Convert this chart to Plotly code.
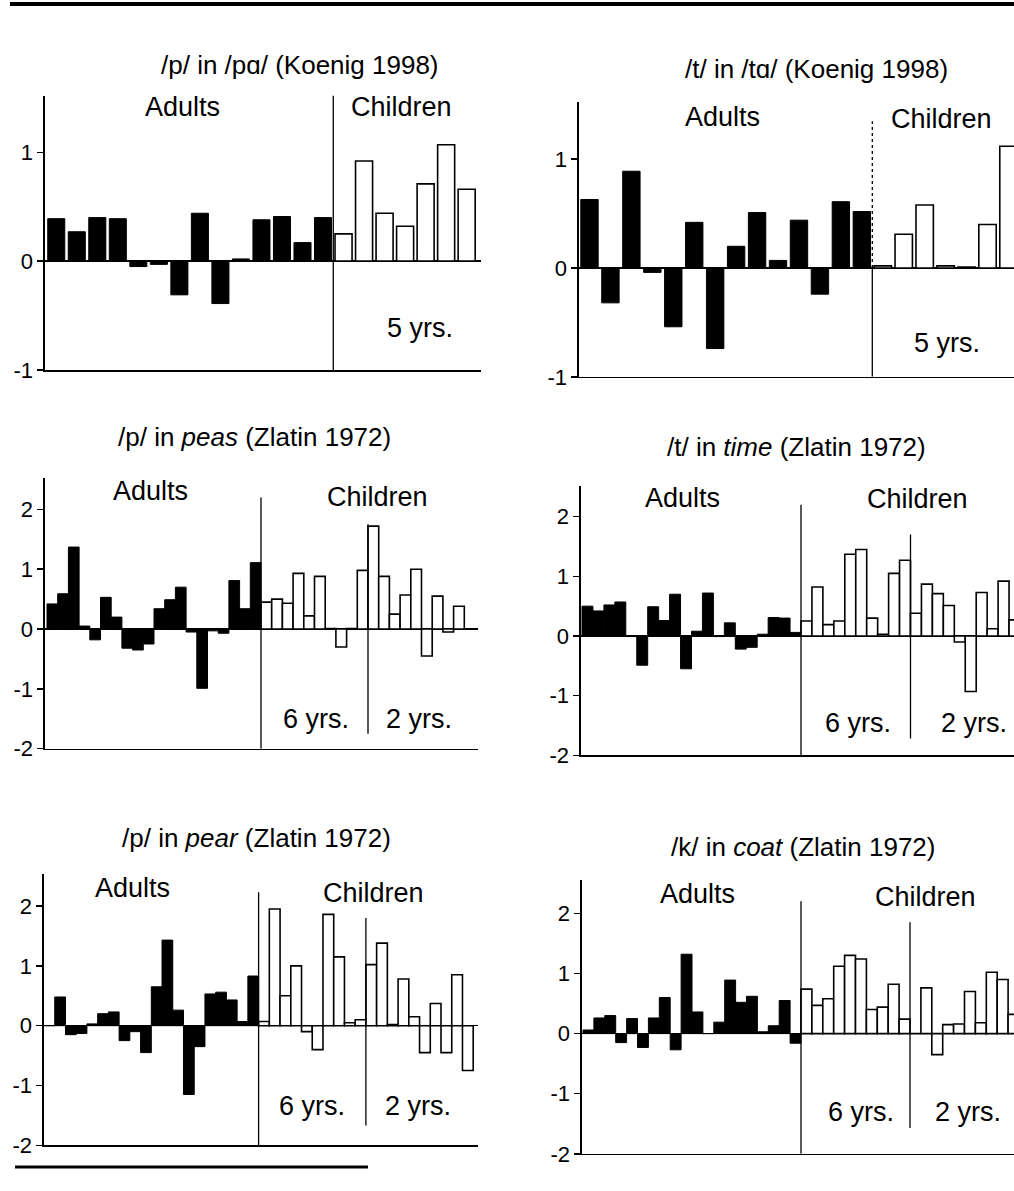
import plotly.graph_objects as go

W, H = 1014, 1191
FONT = "Liberation Sans, Arial, Helvetica, sans-serif"

# ---------------- data ----------------
# Panel 1: /p/ in /pɑ/ (Koenig 1998)
pa_adults = [0.39, 0.27, 0.40, 0.39, -0.05, -0.03, -0.31, 0.44, -0.39, 0.02, 0.38, 0.41, 0.17, 0.40]
pa_children5 = [0.25, 0.92, 0.44, 0.32, 0.71, 1.07, 0.66]
# Panel 2: /t/ in /tɑ/ (Koenig 1998)
ta_adults = [0.63, -0.32, 0.89, -0.04, -0.54, 0.42, -0.74, 0.20, 0.51, 0.07, 0.44, -0.24, 0.61, 0.52]
ta_children5 = [0.02, 0.31, 0.58, 0.02, 0.01, 0.40, 1.12]
# Panel 3: /p/ in peas (Zlatin 1972)
peas_adults = [0.42, 0.59, 1.37, 0.05, -0.18, 0.53, 0.20, -0.32, -0.35, -0.25,
               0.34, 0.49, 0.70, -0.05, -0.99, -0.03, -0.07, 0.81, 0.34, 1.11]
peas_children6 = [0.45, 0.50, 0.43, 0.93, 0.22, 0.88, 0.01, -0.30, 0.01, 0.98]
peas_children2 = [1.72, 0.88, 0.25, 0.57, 1.00, -0.45, 0.55, -0.05, 0.38]
# Panel 4: /t/ in time (Zlatin 1972)
time_adults = [0.50, 0.42, 0.52, 0.57, -0.01, -0.49, 0.49, 0.26, 0.70, -0.55,
               0.08, 0.72, -0.01, 0.22, -0.22, -0.19, 0.03, 0.31, 0.30, 0.06]
time_children6 = [0.25, 0.82, 0.19, 0.25, 1.37, 1.45, 0.30, 0.03, 1.05, 1.27]
time_children2 = [0.38, 0.87, 0.71, 0.51, -0.10, -0.93, 0.73, 0.12, 0.92, 0.27]
# Panel 5: /p/ in pear (Zlatin 1972)
pear_adults = [0.00, 0.48, -0.15, -0.13, 0.03, 0.20, 0.23, -0.25, -0.10, -0.45,
               0.65, 1.43, 0.26, -1.15, -0.35, 0.53, 0.56, 0.43, 0.07, 0.83]
pear_children6 = [0.07, 1.95, 0.50, 1.00, -0.10, -0.40, 1.86, 1.15, 0.05, 0.10]
pear_children2 = [1.02, 1.38, 0.02, 0.78, 0.15, -0.45, 0.37, -0.45, 0.85, -0.75]
# Panel 6: /k/ in coat (Zlatin 1972)
coat_adults = [0.06, 0.26, 0.30, -0.15, 0.25, -0.23, 0.26, 0.60, -0.27, 1.32,
               0.36, 0.00, 0.19, 0.89, 0.52, 0.62, 0.03, 0.13, 0.55, -0.16]
coat_children6 = [0.74, 0.47, 0.58, 1.12, 1.30, 1.24, 0.40, 0.44, 0.82, 0.24]
coat_children2 = [0.00, 0.76, -0.35, 0.15, 0.16, 0.70, 0.18, 1.02, 0.90, 0.32]

ticks_small = [1, 0, -1]
ticks_small_text = ["1", "0", "-1"]
ticks_big = [2, 1, 0, -1, -2]
ticks_big_text = ["2", "1", "0", "-1", "-2"]

titles = [
    "/p/ in /pɑ/ (Koenig 1998)",
    "/t/ in /tɑ/ (Koenig 1998)",
    "/p/ in <i>peas</i> (Zlatin 1972)",
    "/t/ in <i>time</i> (Zlatin 1972)",
    "/p/ in <i>pear</i> (Zlatin 1972)",
    "/k/ in <i>coat</i> (Zlatin 1972)",
]

# ---------------- layout description (pixels) ----------------
panels = [
    dict(groups=[pa_adults, pa_children5], dom_x=(45, 481), left0=46, step=20.52,
         zero=264, unit=110, ymin=-1, ymax=1.52, tv=ticks_small, tt=ticks_small_text, bw=0.83,
         title_xy=(300, 66),
         divs=[(1, -1, 1.6, "solid")],
         labels=[("Adults", 182, 108), ("Children", 401, 108), ("5 yrs.", 420, 332)]),
    dict(groups=[ta_adults, ta_children5], dom_x=(579, 1014), left0=579, step=20.95,
         zero=271, unit=110, ymin=-1, ymax=1.53, tv=ticks_small, tt=ticks_small_text, bw=0.83,
         title_xy=(816, 70),
         divs=[(1, 0, 1.35, "dot"), (1, -1, 0, "solid")],
         labels=[("Adults", 722, 118), ("Children", 941, 120), ("5 yrs.", 947, 347)]),
    dict(groups=[peas_adults, peas_children6, peas_children2], dom_x=(45, 478), left0=47, step=10.7,
         zero=636, unit=60.5, ymin=-2, ymax=2.53, tv=ticks_big, tt=ticks_big_text, bw=1.0,
         title_xy=(254, 442),
         divs=[(1, -2, 2.2, "solid"), (2, -1.75, 1.75, "solid")],
         labels=[("Adults", 150, 496), ("Children", 377, 502), ("6 yrs.", 316, 727), ("2 yrs.", 419, 727)]),
    dict(groups=[time_adults, time_children6, time_children2], dom_x=(581, 1014), left0=582, step=10.95,
         zero=643, unit=60.3, ymin=-2, ymax=2.52, tv=ticks_big, tt=ticks_big_text, bw=1.0,
         title_xy=(796, 452),
         divs=[(1, -2, 2.2, "solid"), (2, -1.72, 1.7, "solid")],
         labels=[("Adults", 682, 503), ("Children", 917, 505), ("6 yrs.", 858, 731), ("2 yrs.", 974, 731)]),
    dict(groups=[pear_adults, pear_children6, pear_children2], dom_x=(44, 478), left0=44, step=10.73,
         zero=1037, unit=60.5, ymin=-2, ymax=2.53, tv=ticks_big, tt=ticks_big_text, bw=1.0,
         title_xy=(256, 847),
         divs=[(1, -2, 2.23, "solid"), (2, -1.67, 1.8, "solid")],
         labels=[("Adults", 132, 898), ("Children", 373, 903), ("6 yrs.", 312, 1118), ("2 yrs.", 418, 1118)]),
    dict(groups=[coat_adults, coat_children6, coat_children2], dom_x=(582, 1014), left0=583, step=10.9,
         zero=1045, unit=60.8, ymin=-2, ymax=2.55, tv=ticks_big, tt=ticks_big_text, bw=1.0,
         title_xy=(803, 856),
         divs=[(1, -2, 2.2, "solid"), (2, -1.57, 1.85, "solid")],
         labels=[("Adults", 697, 904), ("Children", 925, 907), ("6 yrs.", 861, 1124), ("2 yrs.", 968, 1124)]),
]

fig = go.Figure()
layout = dict(
    width=W, height=H, margin=dict(l=0, r=0, t=0, b=0),
    paper_bgcolor="white", plot_bgcolor="white", showlegend=False,
    font=dict(family=FONT, color="black"),
    annotations=[], shapes=[],
)

for i, p in enumerate(panels):
    n = i + 1
    xa = "x" if n == 1 else f"x{n}"
    ya = "y" if n == 1 else f"y{n}"
    # x range: bar k centered on value k
    x0 = -0.5 - (p["left0"] - p["dom_x"][0]) / p["step"]
    x1 = x0 + (p["dom_x"][1] - p["dom_x"][0]) / p["step"]
    top_px = p["zero"] - p["ymax"] * p["unit"]
    bot_px = p["zero"] - p["ymin"] * p["unit"]

    start = 0
    bounds = []
    for g, vals in enumerate(p["groups"]):
        xs = list(range(start, start + len(vals)))
        adult = g == 0
        fig.add_trace(go.Bar(
            x=xs, y=vals, width=p["bw"], xaxis=xa, yaxis=ya,
            marker=dict(color="black" if adult else "white",
                        line=dict(color="black", width=1.0 if adult else 1.6)),
            hoverinfo="skip",
        ))
        start += len(vals)
        bounds.append(start - 0.5)

    layout["xaxis" if n == 1 else f"xaxis{n}"] = dict(
        domain=[p["dom_x"][0] / W, p["dom_x"][1] / W], anchor=ya, range=[x0, x1],
        showline=True, linecolor="black", linewidth=1.6, showticklabels=False,
        ticks="", showgrid=False, zeroline=False, fixedrange=True,
    )
    layout["yaxis" if n == 1 else f"yaxis{n}"] = dict(
        domain=[1 - bot_px / H, 1 - top_px / H], anchor=xa, range=[p["ymin"], p["ymax"]],
        showline=True, linecolor="black", linewidth=1.6,
        ticks="outside", ticklen=6, tickwidth=1.5, tickcolor="black",
        tickvals=p["tv"], ticktext=p["tt"], tickfont=dict(size=22, family=FONT, color="black"),
        showgrid=False, zeroline=True, zerolinecolor="black", zerolinewidth=1.6, fixedrange=True,
    )

    for (gi, yb, yt, dash) in p["divs"]:
        bx = bounds[gi - 1]
        layout["shapes"].append(dict(
            type="line", xref=xa, yref=ya, x0=bx, x1=bx, y0=yb, y1=yt,
            line=dict(color="black", width=1.3, dash=dash), layer="above",
        ))

    tx, ty = p["title_xy"]
    layout["annotations"].append(dict(
        text=titles[i], x=tx / W, y=1 - ty / H, xref="paper", yref="paper",
        xanchor="center", yanchor="middle", showarrow=False,
        font=dict(size=26, family=FONT, color="black"),
    ))
    for (txt, lx, ly) in p["labels"]:
        layout["annotations"].append(dict(
            text=txt, x=lx / W, y=1 - ly / H, xref="paper", yref="paper",
            xanchor="center", yanchor="middle", showarrow=False,
            font=dict(size=27, family=FONT, color="black"),
        ))

# page rules (top and bottom)
layout["shapes"].append(dict(type="line", xref="paper", yref="paper",
                             x0=10 / W, x1=1.0, y0=1 - 4 / H, y1=1 - 4 / H,
                             line=dict(color="black", width=4)))
layout["shapes"].append(dict(type="line", xref="paper", yref="paper",
                             x0=15 / W, x1=368 / W, y0=1 - 1180 / H, y1=1 - 1180 / H,
                             line=dict(color="black", width=3)))

fig.update_layout(**layout)
fig.write_html("out.html",
               config={"displayModeBar": False, "staticPlot": True},
               post_script="document.body.style.margin='0';document.body.style.overflow='hidden';")
